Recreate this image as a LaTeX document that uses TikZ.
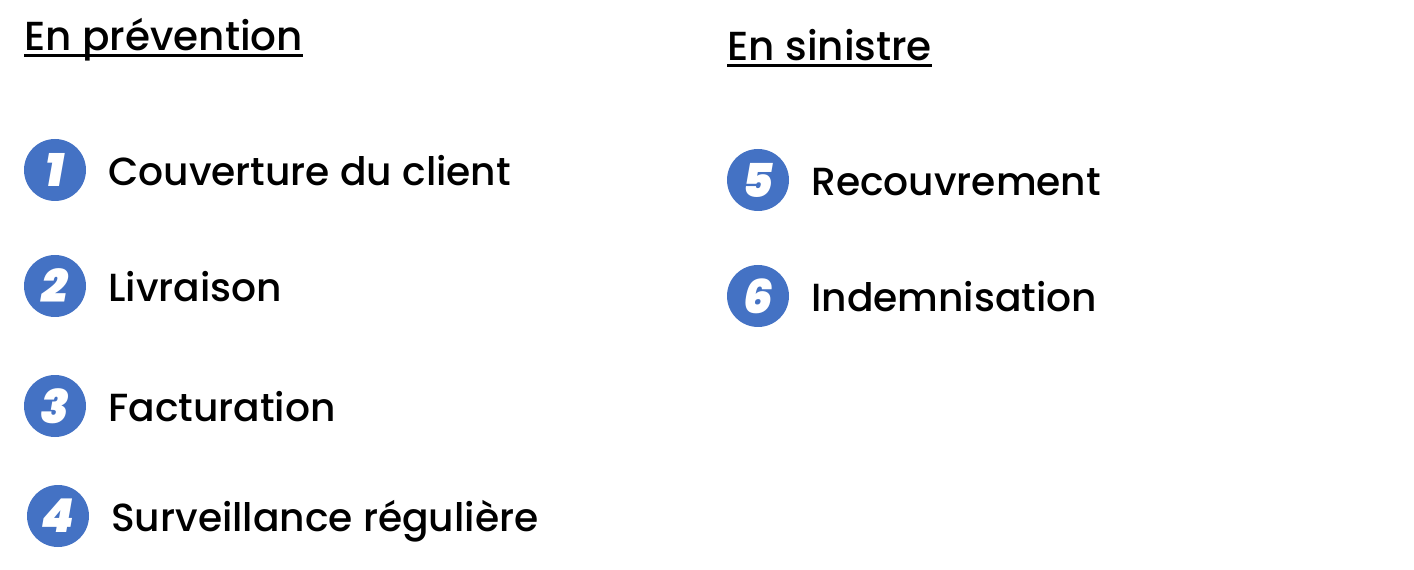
\documentclass[tikz,border=0pt]{standalone}
\usepackage{fontspec}
\setmainfont{Poppins Medium}
\newfontfamily\numfont{Poppins Black}
\definecolor{bluec}{HTML}{4472C4}
\newcommand{\headline}[1]{\setbox0=\hbox{#1}\rlap{\rule[-4.4pt]{\wd0}{1.8pt}}\box0}
\tikzset{
 lab/.style={anchor=base west,inner sep=0pt,font=\fontsize{29.4}{36}\selectfont,text=black},
 head/.style={anchor=base west,inner sep=0pt,font=\fontsize{30.4}{36}\selectfont,text=black},
 num/.style={circle,fill=bluec,minimum size=46.5pt,inner sep=0pt,text=white,font=\fontsize{35}{36}\selectfont\numfont\itshape}
}
\begin{document}
\begin{tikzpicture}[x=0.75pt,y=-0.75pt]
\useasboundingbox (0,0) rectangle (1414,570);
\node[head] (h1) at (24,51) {\headline{En prévention}};
\node[head] (h2) at (727,61) {\headline{En sinistre}};
\node[num] (n1) at (55,170) {1};
\node[num] (n2) at (55,286) {2};
\node[num] (n3) at (55,406) {3};
\node[num] (n4) at (58,516) {4};
\node[num] (n5) at (758,180) {5};
\node[num] (n6) at (758,296) {6};
\node[lab] (t1) at (108,185.5) {Couverture du client};
\node[lab] (t2) at (108,301.5) {Livraison};
\node[lab] (t3) at (108,421.5) {Facturation};
\node[lab] (t4) at (111,531.5) {Surveillance régulière};
\node[lab] (t5) at (811,195.5) {Recouvrement};
\node[lab] (t6) at (811,311.5) {Indemnisation};
\end{tikzpicture}
\end{document}
